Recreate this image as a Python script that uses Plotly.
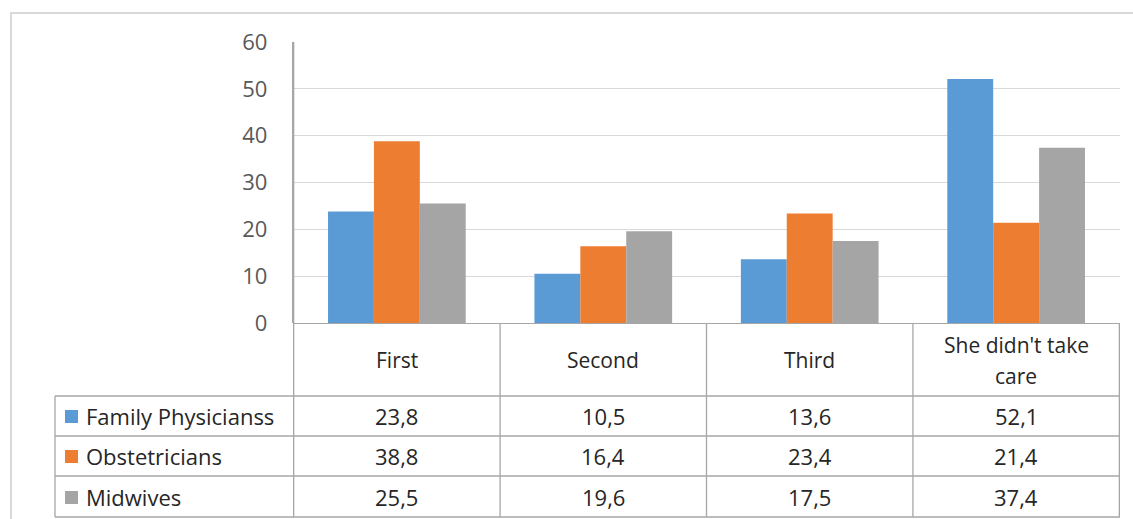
import plotly.graph_objects as go

# Categories and series values
categories = ["First", "Second", "Third", "She didn't take care"]
category_label_lines = [["First"], ["Second"], ["Third"], ["She didn't take", "care"]]
series_names = ["Family Physicianss", "Obstetricians", "Midwives"]
family_physicians = [23.8, 10.5, 13.6, 52.1]
obstetricians = [38.8, 16.4, 23.4, 21.4]
midwives = [25.5, 19.6, 17.5, 37.4]
y_ticks = [0, 10, 20, 30, 40, 50, 60]

series_values = [family_physicians, obstetricians, midwives]
colors = ["#5b9bd5", "#ed7d31", "#a5a5a5"]

W, H = 1133, 519
L, R, T, B = 293, 13, 42, 196
PW, PH = W - L - R, H - T - B
FONT = "Open Sans"
FS = 22
TEXT = "#262626"
LINE = "#a6a6a6"
HEADER_MID, HEADER_LEADING = 360, 31


def py(p):
    """pixel row -> paper y"""
    return (H - B - p) / PH


def px(p):
    """pixel column -> paper x"""
    return (p - L) / PW


def fmt(v):
    return f"{v:.1f}".replace(".", ",")


fig = go.Figure()
for name, vals, col in zip(series_names, series_values, colors):
    fig.add_trace(go.Bar(x=categories, y=vals, name=name,
                         marker=dict(color=col, line=dict(width=0)),
                         showlegend=False))

shapes = []
annotations = []

# outer chart frame
shapes.append(dict(type="rect", xref="paper", yref="paper",
                   x0=px(11), x1=px(1140), y0=py(13), y1=py(530),
                   line=dict(color="#d9d9d9", width=2), layer="below"))

# data table: horizontal rules
for yb in [396, 436, 476, 517]:
    shapes.append(dict(type="line", xref="paper", yref="paper",
                       x0=px(55), x1=1, y0=py(yb), y1=py(yb),
                       line=dict(color=LINE, width=1.3)))
# left edge of table (series-name column)
shapes.append(dict(type="line", xref="paper", yref="paper",
                   x0=px(55), x1=px(55), y0=py(396), y1=py(517),
                   line=dict(color=LINE, width=1.3)))
# column separators, aligned to category slots
for k in range(len(categories) + 1):
    shapes.append(dict(type="line", xref="x", yref="paper",
                       x0=k - 0.5, x1=k - 0.5, y0=0 if k else 1, y1=py(517),
                       line=dict(color=LINE, width=1.3)))

# header labels (one annotation per line for Excel-like leading)
for cat, lines in zip(categories, category_label_lines):
    n = len(lines)
    for i, line in enumerate(lines):
        yc = HEADER_MID + (i - (n - 1) / 2) * HEADER_LEADING
        annotations.append(dict(x=cat, y=py(yc), xref="x", yref="paper",
                                text=line, showarrow=False, yanchor="middle",
                                font=dict(family=FONT, size=FS - 1, color=TEXT)))

# series rows: legend key, name, values
row_centers = [416, 456, 497]
for name, vals, col, yc in zip(series_names, series_values, colors, row_centers):
    shapes.append(dict(type="rect", xref="paper", yref="paper",
                       x0=px(65), x1=px(78), y0=py(yc - 6), y1=py(yc + 7),
                       fillcolor=col, line=dict(width=0)))
    annotations.append(dict(x=px(84), y=py(yc), xref="paper", yref="paper",
                            text=name, showarrow=False, xanchor="left",
                            yanchor="middle",
                            font=dict(family=FONT, size=FS, color=TEXT)))
    for cat, v in zip(categories, vals):
        annotations.append(dict(x=cat, y=py(yc), xref="x", yref="paper",
                                text=fmt(v), showarrow=False, yanchor="middle",
                                font=dict(family=FONT, size=FS, color=TEXT)))

fig.update_layout(
    width=W, height=H,
    margin=dict(l=L, r=R, t=T, b=B),
    paper_bgcolor="white", plot_bgcolor="white",
    barmode="group", bargap=0.333, bargroupgap=0,
    xaxis=dict(showticklabels=False, showgrid=False, zeroline=False,
               showline=False, ticks=""),
    yaxis=dict(range=[0, 60], tickvals=y_ticks, showgrid=True,
               gridcolor="#d9d9d9", gridwidth=1, zeroline=True,
               zerolinecolor=LINE, zerolinewidth=1.3,
               showline=True, linecolor=LINE, linewidth=1.3,
               ticks="", ticklabelstandoff=20,
               tickfont=dict(family=FONT, size=FS, color="#595959")),
    shapes=shapes, annotations=annotations,
)

fig.write_html("out.html")
